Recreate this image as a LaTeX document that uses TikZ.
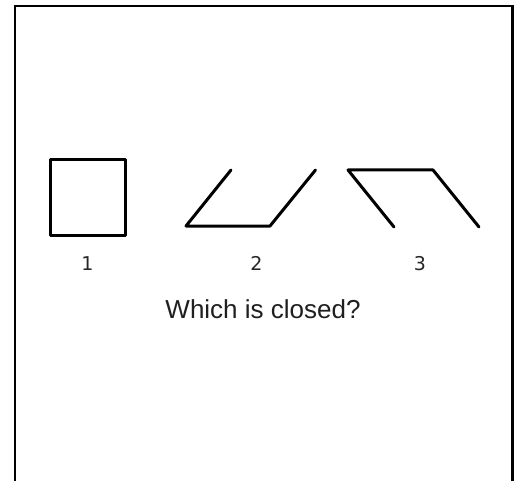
\documentclass[tikz,border=0pt]{standalone}
\usepackage{fontspec}
\setmainfont{Liberation Sans}
\newfontfamily\labfont{DejaVu Sans}
\begin{document}
\begin{tikzpicture}[x=1pt,y=-1pt,
  frame/.style={line width=2.5pt,black},
  shapeline/.style={line width=3pt,black,line cap=round,line join=round},
  numlabel/.style={anchor=base,inner sep=0pt,text=black!85,font=\labfont\fontsize{19}{23}\selectfont},
  question/.style={anchor=base,inner sep=0pt,text=black!88,font=\fontsize{26}{31}\selectfont}]
\useasboundingbox (0,0) rectangle (519,481);
\fill[white] (0,0) rectangle (519,481);
% frame (open at bottom)
\coordinate (fbl) at (15,481);
\coordinate (ftl) at (15,6);
\coordinate (ftr) at (512.5,6);
\coordinate (fbr) at (512.5,481);
\draw[frame] (fbl) -- (ftl) -- (ftr) -- (fbr);
% shape 1: square
\coordinate (s1a) at (50,159.5);
\coordinate (s1b) at (125.5,235.5);
\draw[shapeline] (s1a) rectangle (s1b);
% shape 2
\coordinate (s2a) at (231,170);
\coordinate (s2b) at (186,226);
\coordinate (s2c) at (270,226);
\coordinate (s2d) at (315.5,170);
\draw[shapeline] (s2a) -- (s2b) -- (s2c) -- (s2d);
% shape 3
\coordinate (s3a) at (394,227);
\coordinate (s3b) at (348,170);
\coordinate (s3c) at (433,170);
\coordinate (s3d) at (479,227);
\draw[shapeline] (s3a) -- (s3b) -- (s3c) -- (s3d);
% labels
\node[numlabel] (l1) at (87.5,270.5) {1};
\node[numlabel] (l2) at (256.5,270.5) {2};
\node[numlabel] (l3) at (420,270.5) {3};
\node[question] (q) at (263,318) {Which is closed?};
\end{tikzpicture}
\end{document}
